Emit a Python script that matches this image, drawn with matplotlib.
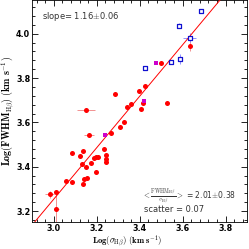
#!/usr/bin/env python3

import numpy as np
import matplotlib

matplotlib.use("Agg")
import matplotlib.pyplot as plt
from matplotlib.ticker import MultipleLocator

# red filled points: log sigma, log FWHM
red_x = [2.981, 3.011, 3.011, 3.058, 3.083, 3.084, 3.121, 3.136, 3.130, 3.150,
         3.139, 3.154, 3.137, 3.165, 3.175, 3.188, 3.198, 3.207, 3.195, 3.235,
         3.241, 3.244, 3.244, 3.267, 3.306, 3.325, 3.284, 3.343, 3.359, 3.396,
         3.426, 3.416, 3.405, 3.526, 3.501, 3.634, 3.150]
red_y = [3.276, 3.287, 3.211, 3.334, 3.331, 3.464, 3.448, 3.470, 3.413, 3.399,
         3.343, 3.347, 3.321, 3.543, 3.418, 3.438, 3.444, 3.445, 3.378, 3.479,
         3.451, 3.436, 3.423, 3.550, 3.580, 3.602, 3.730, 3.668, 3.684, 3.743,
         3.766, 3.686, 3.662, 3.689, 3.868, 3.943, 3.656]
red_xerr = [0.02, 0.012, 0.012, 0.008, 0.008, 0.008, 0.008, 0.008, 0.008, 0.008,
            0.008, 0.008, 0.008, 0.024, 0.008, 0.008, 0.008, 0.008, 0.008, 0.008,
            0.008, 0.008, 0.008, 0.008, 0.008, 0.008, 0.008, 0.008, 0.008, 0.008,
            0.008, 0.008, 0.008, 0.008, 0.008, 0.008, 0.04]
red_yerr = [0.015, 0.008, 0.065, 0.008, 0.008, 0.008, 0.008, 0.008, 0.008, 0.008,
            0.008, 0.008, 0.008, 0.008, 0.008, 0.008, 0.008, 0.008, 0.008, 0.008,
            0.008, 0.008, 0.008, 0.008, 0.008, 0.008, 0.008, 0.008, 0.008, 0.008,
            0.008, 0.008, 0.008, 0.008, 0.008, 0.022, 0.008]

# magenta filled points
mag_x = [3.238, 3.419, 3.475]
mag_y = [3.543, 3.698, 3.866]

# blue open squares
blue_x = [3.425, 3.548, 3.589, 3.634, 3.585, 3.685]
blue_y = [3.847, 3.874, 3.887, 3.983, 4.037, 4.102]
blue_xerr = [0.006, 0.006, 0.006, 0.03, 0.006, 0.006]
blue_yerr = [0.008, 0.008, 0.022, 0.02, 0.012, 0.008]

slope = 1.16
intercept = -0.226

plt.rcParams["mathtext.fontset"] = "cm"
fig = plt.figure(figsize=(2.49, 2.49), dpi=100)
ax = fig.add_axes([0.13, 0.108, 0.862, 0.89])

ax.errorbar(red_x, red_y, xerr=red_xerr, yerr=red_yerr, fmt="none",
            ecolor="#f08080", elinewidth=0.6, zorder=2)
ax.errorbar(blue_x, blue_y, xerr=blue_xerr, yerr=blue_yerr, fmt="none",
            ecolor="#8080ff", elinewidth=0.6, zorder=2)

xl = np.array([2.9, 3.9])
ax.plot(xl, slope * xl + intercept, color="red", lw=0.7, zorder=3)

ax.scatter(red_x, red_y, s=13, color="red", zorder=4, linewidths=0)
ax.scatter(mag_x, mag_y, s=9, color="#cc00cc", marker="s", zorder=4, linewidths=0)
ax.scatter(blue_x, blue_y, s=7, facecolor="white", edgecolor="#1010d0",
           marker="s", linewidths=0.9, zorder=4)

ax.set_xlim(2.9, 3.9)
ax.set_ylim(3.15, 4.15)
ax.xaxis.set_major_locator(MultipleLocator(0.2))
ax.xaxis.set_minor_locator(MultipleLocator(0.04))
ax.yaxis.set_major_locator(MultipleLocator(0.2))
ax.yaxis.set_minor_locator(MultipleLocator(0.04))
ax.tick_params(which="both", direction="in", top=True, right=True, width=0.6)
ax.tick_params(which="major", length=4, labelsize=5.8, pad=1.5)
ax.tick_params(which="minor", length=2)
for lab in ax.get_xticklabels() + ax.get_yticklabels():
    lab.set_fontweight("bold")
for sp in ax.spines.values():
    sp.set_linewidth(0.6)

ax.set_xlabel(r"$\mathbf{Log(}\sigma_{\rm H\beta}\mathbf{)\ (km\ s^{-1})}$",
              fontsize=6.2, va="center")
ax.xaxis.set_label_coords(0.44, -0.088)
ax.set_ylabel(r"$\mathbf{Log(FWHM}_{\rm H\beta}\mathbf{)\ (km\ s^{-1})}$",
              fontsize=7.2, va="center")
ax.yaxis.set_label_coords(-0.115, 0.5)

ax.text(0.046, 0.93, "slope= 1.16$\\pm$0.06", transform=ax.transAxes,
        fontsize=6, color="#333333", va="center")
ax.text(0.51, 0.118, r"$<\frac{\rm FWHM_{H\beta}}{\sigma_{H\beta}}>$ = 2.01$\pm$0.38",
        transform=ax.transAxes, fontsize=5.5, color="#333333", va="center")
ax.text(0.52, 0.058, "scatter = 0.07", transform=ax.transAxes,
        fontsize=6, color="#333333", va="center")

fig.savefig("out.png", dpi=100)
